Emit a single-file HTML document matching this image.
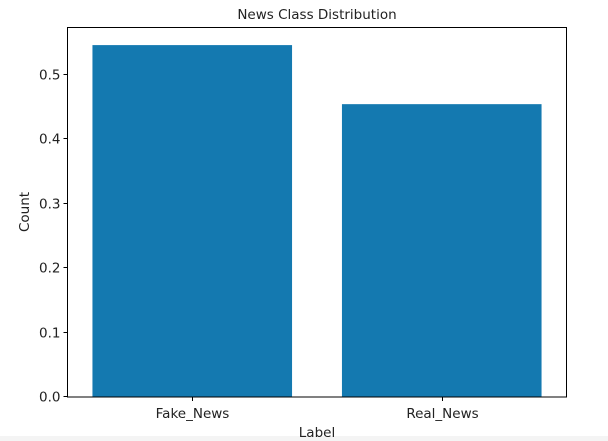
<!DOCTYPE html>
<html><head><meta charset="utf-8"><style>
html,body{margin:0;padding:0;background:#fff;}
svg{display:block;font-family:"DejaVu Sans","Liberation Sans",sans-serif;}
</style></head><body>
<svg id="chart" width="608" height="441">
<rect x="0" y="436" width="608" height="5" fill="#f4f4f4"/>
<text x="317" y="19" text-anchor="middle" font-size="13.5" fill="#222">News Class Distribution</text>
<g id="bars"></g>
<g id="yticks"></g>
<g id="xticks"></g>
<rect x="67.5" y="27.5" width="499" height="369.5" fill="none" stroke="#000" stroke-width="1"/>
<text x="317" y="437" text-anchor="middle" font-size="13.5" fill="#222">Label</text>
<text transform="translate(29,212) rotate(-90)" text-anchor="middle" font-size="13.5" fill="#222">Count</text>
</svg>
<script>
const categories=["Fake_News","Real_News"];
const values=[0.5458,0.4542];
const yTicks=[0,0.1,0.2,0.3,0.4,0.5];
const yTickLabels=["0.0","0.1","0.2","0.3","0.4","0.5"];
const NS="http://www.w3.org/2000/svg";
const L=67.5,R=566.5,T=27.5,B=397;
const yMax=Math.max(...values)*1.05;
const y=v=>B-(v/yMax)*(B-T);
const x=i=>L+(i+0.5)*(R-L)/categories.length;
const bw=0.8*(R-L)/categories.length;
function mk(t,a){const e=document.createElementNS(NS,t);for(const k in a)e.setAttribute(k,a[k]);return e;}
const bars=document.getElementById('bars'),yt=document.getElementById('yticks'),xt=document.getElementById('xticks');
values.forEach((v,i)=>{const r=mk('rect',{x:x(i)-bw/2,y:y(v),width:bw,height:B-y(v),fill:'#1479b0'});

bars.appendChild(r);});
yTicks.forEach((v,i)=>{const yy=Math.round(y(v))-0.5;
const l=mk('line',{x1:L-4,x2:L,y1:yy,y2:yy,stroke:'#000'});

yt.appendChild(l);
const t=mk('text',{x:L-7,y:yy+5,'text-anchor':'end','font-size':'13.5',fill:'#222'});t.textContent=yTickLabels[i];

yt.appendChild(t);});
categories.forEach((c,i)=>{const xx=Math.round(x(i))+0.5;
const l=mk('line',{x1:xx,x2:xx,y1:B,y2:B+4,stroke:'#000'});

xt.appendChild(l);
const t=mk('text',{x:xx,y:B+21,'text-anchor':'middle','font-size':'13.5',fill:'#222'});t.textContent=c;

xt.appendChild(t);});
</script>
</body></html>
